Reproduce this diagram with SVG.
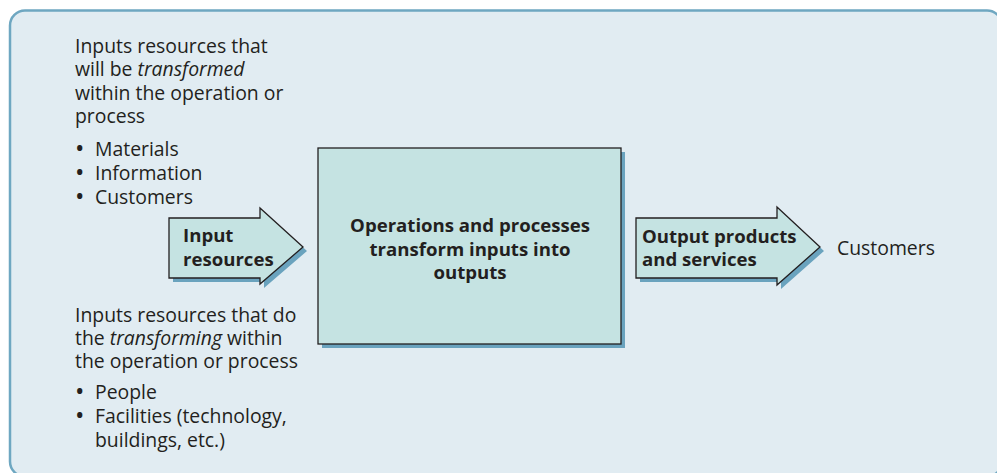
<svg xmlns="http://www.w3.org/2000/svg" width="997" height="473" viewBox="0 0 997 473">
<style>
.t{font-family:"Open Sans","Noto Sans","Liberation Sans",sans-serif;font-size:19.4px;fill:#231f20}
.b{font-family:"Open Sans","Noto Sans","Liberation Sans",sans-serif;font-size:18.6px;font-weight:bold;fill:#231f20}
.bl{font-size:25px}
.shape{fill:#c5e3e2;stroke:#231f20;stroke-width:1.3}
.shadow{fill:#6aa3be}
</style>
<defs>
<path id="arrowIn" d="M169,218 H260 V208 L303,247 L260,284 V278 H169 Z"/>
<path id="arrowOut" d="M636,218 H777 V207 L820,247 L777,285 V278 H636 Z"/>
</defs>
<rect x="10" y="10.5" width="992" height="466" rx="15" fill="#e1ecf2" stroke="#6ea7c1" stroke-width="2.5"/>
<g id="transformed-inputs">
<text class="t"><tspan x="75" y="52.5">Inputs resources that</tspan><tspan x="75" y="76">will be </tspan><tspan font-style="italic">transformed</tspan><tspan x="75" y="99.5">within the operation or</tspan><tspan x="75" y="123">process</tspan><tspan class="bl" x="75" y="157">•</tspan><tspan x="95" y="156">Materials</tspan><tspan class="bl" x="75" y="181">•</tspan><tspan x="95" y="180">Information</tspan><tspan class="bl" x="75" y="205">•</tspan><tspan x="95" y="204">Customers</tspan></text>
</g>
<g id="transforming-inputs">
<text class="t"><tspan x="75" y="322">Inputs resources that do</tspan><tspan x="75" y="345">the </tspan><tspan font-style="italic">transforming</tspan><tspan> within</tspan><tspan x="75" y="368">the operation or process</tspan><tspan class="bl" x="75" y="400">•</tspan><tspan x="95" y="399">People</tspan><tspan class="bl" x="75" y="423.5">•</tspan><tspan x="95" y="422.5">Facilities (technology,</tspan><tspan x="95" y="446.5">buildings, etc.)</tspan></text>
</g>
<g id="connectors">
<g id="input-resources">
<use href="#arrowIn" class="shadow" transform="translate(4,4)"/>
<use href="#arrowIn" class="shape"/>
<text class="b"><tspan x="183" y="242">Input</tspan><tspan x="183" y="266">resources</tspan></text>
</g>
<g id="output-products">
<use href="#arrowOut" class="shadow" transform="translate(4,4)"/>
<use href="#arrowOut" class="shape"/>
<text class="b"><tspan x="642" y="243">Output products</tspan><tspan x="642" y="266">and services</tspan></text>
</g>
</g>
<g id="operations">
<rect x="322" y="152" width="303" height="196" class="shadow"/>
<rect x="318" y="148" width="303" height="196" class="shape"/>
<text class="b" text-anchor="middle"><tspan x="470" y="232">Operations and processes</tspan><tspan x="470" y="256">transform inputs into</tspan><tspan x="470" y="279">outputs</tspan></text>
</g>
<g id="customers">
<text class="t" x="837" y="255">Customers</text>
</g>
</svg>
